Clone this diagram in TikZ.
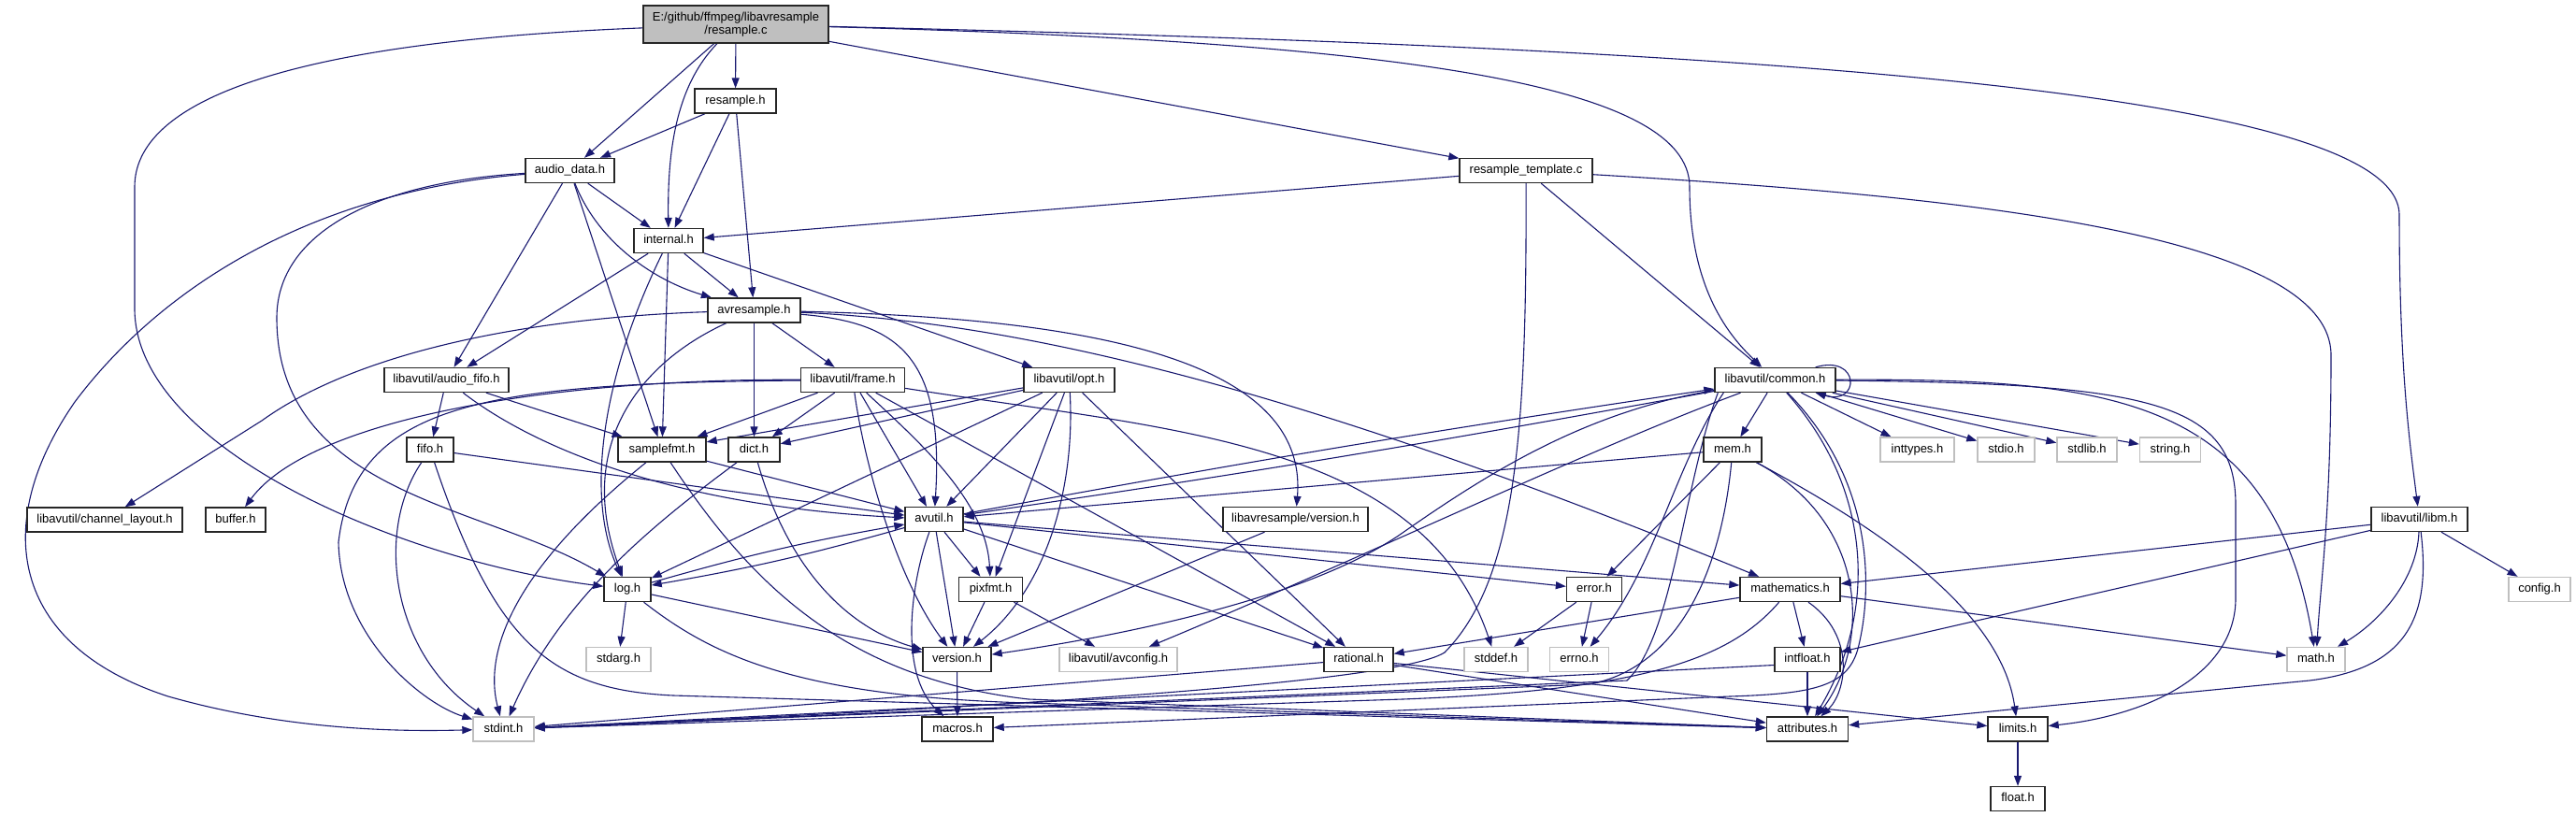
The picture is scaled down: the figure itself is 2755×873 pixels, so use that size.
\documentclass[tikz,border=0pt]{standalone}
\usepackage{fontspec}
\setmainfont{Liberation Sans}
\usetikzlibrary{arrows.meta}
\definecolor{eb}{HTML}{191970}
\definecolor{gb}{HTML}{BFBFBF}
\pgfdeclarelayer{bg}
\pgfsetlayers{bg,main}
\begin{document}
\begin{tikzpicture}[x=1pt,y=-1pt,
  nb/.style={draw=black!85, line width=1.4pt, fill=white, minimum height=26pt, inner xsep=4pt, inner ysep=0pt, font=\fontsize{13}{15}\selectfont, text height=9.4pt, text depth=2.6pt},
  ng/.style={nb, draw=gb},
  e/.style={draw=eb, line width=1.1pt, -{Triangle[length=11pt,width=8pt]}}]
\useasboundingbox (0,0) rectangle (2755,873);
% nodes
\node[draw=black!85,line width=1.4pt,fill=gb,minimum width=198pt,minimum height=40pt,align=center,inner sep=0pt,font=\fontsize{13}{14.5}\selectfont] (root) at (787,26) {E:/github/ffmpeg/libavresample\\/resample.c};
\node[nb,minimum width=87pt] (resampleh) at (786.5,108) {resample.h};
\node[nb,minimum width=95pt] (audiodata) at (609.5,182.5) {audio\_data.h};
\node[nb,minimum width=74pt] (internal) at (715,257.5) {internal.h};
\node[nb,minimum width=99pt] (avresample) at (806.5,332) {avresample.h};
\node[nb,minimum width=133pt] (audiofifo) at (477.5,406.5) {libavutil/audio\_fifo.h};
\node[nb,minimum width=111pt] (frame) at (912,406.5) {libavutil/frame.h};
\node[nb,minimum width=97pt] (opt) at (1143.5,406.5) {libavutil/opt.h};
\node[nb,minimum width=142pt] (restemplate) at (1632,182.5) {resample\_template.c};
\node[nb,minimum width=129pt] (common) at (1898.5,406.5) {libavutil/common.h};
\node[nb,minimum width=50pt] (fifo) at (460,481) {fifo.h};
\node[nb,minimum width=94pt] (samplefmt) at (708,481) {samplefmt.h};
\node[nb,minimum width=55pt] (dict) at (806.5,481) {dict.h};
\node[nb,minimum width=62pt] (mem) at (1853,481) {mem.h};
\node[ng,minimum width=79pt] (inttypes) at (2050.5,481) {inttypes.h};
\node[ng,minimum width=61pt] (stdio) at (2145.5,481) {stdio.h};
\node[ng,minimum width=64pt] (stdlib) at (2232,481) {stdlib.h};
\node[ng,minimum width=65pt] (stringh) at (2321,481) {string.h};
\node[nb,minimum width=166pt] (channel) at (112,556) {libavutil/channel\_layout.h};
\node[nb,minimum width=64pt] (buffer) at (252,556) {buffer.h};
\node[nb,minimum width=62pt] (avutil) at (999,555.5) {avutil.h};
\node[nb,minimum width=155pt] (lavrver) at (1385.5,555.5) {libavresample/version.h};
\node[nb,minimum width=103pt] (libm) at (2587.5,555.5) {libavutil/libm.h};
\node[nb,minimum width=50pt] (log) at (671,630.5) {log.h};
\node[nb,minimum width=68pt] (pixfmt) at (1059.5,630.5) {pixfmt.h};
\node[nb,minimum width=59pt] (error) at (1705,630.5) {error.h};
\node[nb,minimum width=107pt] (mathematics) at (1914.5,630.5) {mathematics.h};
\node[ng,minimum width=66pt] (config) at (2716,630.5) {config.h};
\node[ng,minimum width=69pt] (stdarg) at (661.5,705.5) {stdarg.h};
\node[nb,minimum width=73pt] (version) at (1023.5,705.5) {version.h};
\node[ng,minimum width=126pt] (avconfig) at (1196,705.5) {libavutil/avconfig.h};
\node[nb,minimum width=74pt] (rational) at (1453,705.5) {rational.h};
\node[ng,minimum width=68pt] (stddef) at (1600,705.5) {stddef.h};
\node[ng,minimum width=63pt] (errno) at (1689,705.5) {errno.h};
\node[nb,minimum width=70pt] (intfloat) at (1933,705.5) {intfloat.h};
\node[ng,minimum width=62pt] (mathh) at (2477,705.5) {math.h};
\node[ng,minimum width=65pt] (stdint) at (538.5,780) {stdint.h};
\node[nb,minimum width=76pt] (macros) at (1024,780) {macros.h};
\node[nb,minimum width=87pt] (attributes) at (1933,780) {attributes.h};
\node[nb,minimum width=64pt] (limits) at (2158,780) {limits.h};
\node[nb,minimum width=58pt] (floath) at (2158,854.5) {float.h};
\begin{pgfonlayer}{bg}
\fill[white] (0,0) rectangle (2755,873);
% root
\draw[e] (root) .. controls (300,45) and (144,110) .. (144,200) -- (144,330) .. controls (144,480) and (430,600) .. (log);
\draw[e] (root) -- (audiodata);
\draw[e] (root) .. controls (720,95) and (714,170) .. (internal);
\draw[e] (root) -- (resampleh);
\draw[e] (root) -- (restemplate);
\draw[e] (root) .. controls (1500,45) and (1807,90) .. (1807,200) .. controls (1807,310) and (1850,360) .. (common);
\draw[e] (root) .. controls (1800,50) and (2566,90) .. (2566,230) .. controls (2566,400) and (2578,480) .. (libm);
% resample.h
\draw[e] (resampleh) -- (audiodata);
\draw[e] (resampleh) -- (internal);
\draw[e] (resampleh) -- (avresample);
% audio_data.h
\draw[e] (audiodata) -- (internal);
\draw[e] (audiodata) .. controls (640,260) and (700,300) .. (avresample);
\draw[e] (audiodata) -- (audiofifo);
\draw[e] (audiodata) -- (samplefmt);
\draw[e] (audiodata) .. controls (400,195) and (296,250) .. (296,340) .. controls (296,530) and (520,540) .. (log);
\draw[e] (audiodata) .. controls (330,205) and (170,310) .. (80,430) .. controls (-10,560) and (10,690) .. (180,745) .. controls (320,785) and (450,782) .. (stdint);
% internal.h
\draw[e] (internal) -- (avresample);
\draw[e] (internal) -- (audiofifo);
\draw[e] (internal) -- (samplefmt);
\draw[e] (internal) .. controls (645,400) and (625,530) .. (log);
\draw[e] (internal) -- (opt);
% avresample.h
\draw[e] (avresample) -- (frame);
\draw[e] (avresample) -- (dict);
\draw[e] (avresample) .. controls (680,390) and (615,480) .. (log);
\draw[e] (avresample) .. controls (560,340) and (380,378) .. (280,450) -- (channel);
\draw[e] (avresample) .. controls (960,345) and (1010,380) .. (avutil);
\draw[e] (avresample) .. controls (1150,340) and (1400,380) .. (lavrver);
\draw[e] (avresample) .. controls (1100,345) and (1400,420) .. (mathematics);
% resample_template.c
\draw[e] (restemplate) -- (internal);
\draw[e] (restemplate) -- (common);
\draw[e] (restemplate) .. controls (2100,210) and (2493,250) .. (2493,380) .. controls (2493,550) and (2482,620) .. (mathh);
\draw[e] (restemplate) .. controls (1633,460) and (1622,620) .. (1545,698) .. controls (1480,740) and (800,768) .. (stdint);
% frame.h
\draw[e] (frame) -- (samplefmt);
\draw[e] (frame) -- (dict);
\draw[e] (frame) -- (avutil);
\draw[e] (frame) .. controls (925,500) and (960,620) .. (version);
\draw[e] (frame) .. controls (980,470) and (1055,535) .. (pixfmt);
\draw[e] (frame) -- (rational);
\draw[e] (frame) .. controls (1250,460) and (1520,470) .. (stddef);
\draw[e] (frame) .. controls (580,405) and (330,450) .. (buffer);
\draw[e] (frame) .. controls (520,410) and (380,430) .. (362,580) .. controls (364,680) and (450,752) .. (stdint);
% fifo.h
\draw[e] (fifo) -- (avutil);
\draw[e] (fifo) .. controls (400,570) and (420,700) .. (stdint);
\draw[e] (fifo) .. controls (530,690) and (590,738) .. (720,744) -- (attributes);
% audio_fifo.h
\draw[e] (audiofifo) -- (fifo);
\draw[e] (audiofifo) -- (samplefmt);
\draw[e] (audiofifo) .. controls (560,470) and (700,540) .. (avutil);
% samplefmt.h
\draw[e] (samplefmt) -- (avutil);
\draw[e] (samplefmt) .. controls (560,600) and (515,690) .. (stdint);
\draw[e] (samplefmt) .. controls (800,620) and (900,725) .. (1100,748) -- (attributes);
% dict.h
\draw[e] (dict) .. controls (700,560) and (600,640) .. (stdint);
\draw[e] (dict) .. controls (840,600) and (900,670) .. (version);
% opt.h
\draw[e] (opt) -- (samplefmt);
\draw[e] (opt) -- (dict);
\draw[e] (opt) -- (avutil);
\draw[e] (opt) -- (log);
\draw[e] (opt) -- (pixfmt);
\draw[e] (opt) .. controls (1150,520) and (1120,630) .. (version);
\draw[e] (opt) -- (rational);
% avutil.h
\draw[e] (avutil) to[bend left=1] (common);
\draw[e] (common) to[bend left=1] (avutil);
\draw[e] (avutil) -- (error);
\draw[e] (avutil) -- (rational);
\draw[e] (avutil) -- (version);
\draw[e] (avutil) .. controls (975,620) and (960,720) .. (macros);
\draw[e] (avutil) -- (mathematics);
\draw[e] (avutil) to[bend left=3] (log);
\draw[e] (log) to[bend left=3] (avutil);
\draw[e] (avutil) -- (pixfmt);
% log.h
\draw[e] (log) -- (stdarg);
\draw[e] (log) -- (version);
\draw[e] (log) .. controls (760,700) and (850,745) .. (1100,752) -- (attributes);
% pixfmt.h
\draw[e] (pixfmt) -- (version);
\draw[e] (pixfmt) -- (avconfig);
% libavresample/version.h
\draw[e] (lavrver) -- (version);
% error.h
\draw[e] (error) -- (stddef);
\draw[e] (error) -- (errno);
% rational.h
\draw[e] (rational) -- (stdint);
\draw[e] (rational) -- (attributes);
\draw[e] (rational) -- (limits);
% mathematics.h
\draw[e] (mathematics) -- (rational);
\draw[e] (mathematics) -- (intfloat);
\draw[e] (mathematics) .. controls (1985,680) and (1975,740) .. (attributes);
\draw[e] (mathematics) -- (mathh);
\draw[e] (mathematics) .. controls (1850,705) and (1760,738) .. (1500,748) -- (stdint);
% intfloat.h
\draw[e] (intfloat) -- (attributes);
\draw[e] ([yshift=-6pt]intfloat.west) -- (stdint);
% libm.h
\draw[e] (libm) -- (mathematics);
\draw[e] (libm) -- (intfloat);
\draw[e] (libm) .. controls (2585,620) and (2545,665) .. (mathh);
\draw[e] (libm) .. controls (2600,660) and (2575,715) .. (2470,728) -- (attributes);
\draw[e] (libm) -- (config);
% mem.h
\draw[e] (mem) -- (avutil);
\draw[e] (mem) -- (error);
\draw[e] (mem) .. controls (1840,620) and (1790,715) .. (1700,732) -- (stdint);
\draw[e] (mem) .. controls (2000,560) and (2000,690) .. (attributes);
\draw[e] (mem) .. controls (2000,560) and (2140,650) .. (limits);
% common.h
\draw[e] ([xshift=-22pt]common.north east) .. controls +(48,-14) and +(48,14) .. ([xshift=-22pt]common.south east);
\draw[e] (common) -- (mem);
\draw[e] (common) -- (inttypes);
\draw[e] (common) -- (stdio);
\draw[e] (common) -- (stdlib);
\draw[e] (common) -- (stringh);
\draw[e] (common) .. controls (2250,405) and (2430,420) .. (mathh);
\draw[e] (common) .. controls (2300,410) and (2391,430) .. (2391,540) -- (2391,640) .. controls (2391,720) and (2300,765) .. (limits);
\draw[e] (common) .. controls (2000,520) and (2010,650) .. (attributes);
\draw[e] (common) .. controls (2010,520) and (2000,640) .. (1988,690) .. controls (1978,735) and (1940,742) .. (1850,745) -- (macros);
\draw[e] (common) .. controls (1700,440) and (1600,500) .. (1500,570) .. controls (1400,640) and (1200,680) .. (version);
\draw[e] (common) .. controls (1700,480) and (1450,600) .. (avconfig);
\draw[e] ([xshift=10pt]common.south west) .. controls (1790,500) and (1770,610) .. (errno);
\draw[e] ([xshift=4pt]common.south west) .. controls (1800,520) and (1790,680) .. (1740,728) -- (stdint);
% version.h, limits.h
\draw[e] (version) -- (macros);
\draw[e] (limits) -- (floath);
\end{pgfonlayer}
\end{tikzpicture}
\end{document}
